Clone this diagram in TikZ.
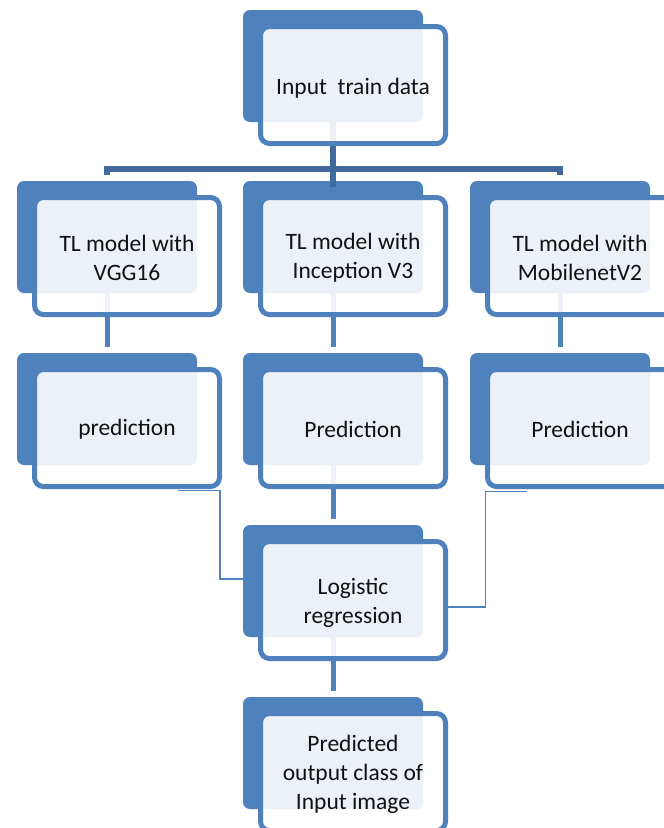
\documentclass[tikz,border=0pt]{standalone}
\usepackage{fontspec}
\setmainfont{Carlito}
\usetikzlibrary{calc}

\definecolor{boxblue}{HTML}{4F81BD}
\definecolor{treeblue}{HTML}{41699C}
\definecolor{tint}{HTML}{ECF1F8}
\definecolor{ink}{HTML}{111111}

\pgfdeclarelayer{backl}
\pgfdeclarelayer{connl}
\pgfdeclarelayer{filll}
\pgfdeclarelayer{tintl}
\pgfsetlayers{backl,connl,filll,tintl,main}

\tikzset{
  frontbox/.style={rectangle, rounded corners=9pt, draw=boxblue, line width=5pt,
    minimum width=185pt, minimum height=117pt, inner sep=0pt, outer sep=0pt},
  boxtext/.style={inner sep=0pt, align=center, text=ink,
    font=\fontsize{23.5}{29}\selectfont},
  backbox/.style={rectangle, rounded corners=7pt, fill=boxblue, draw=none,
    minimum width=180pt, minimum height=112pt, inner sep=0pt, outer sep=0pt},
  conn/.style={draw=boxblue, line width=5pt},
  tree/.style={draw=treeblue, line width=5.5pt},
  link/.style={draw=boxblue, line width=1.8pt},
}

% stacked box: blue card behind, framed card in front, tinted overlap
\newcommand\flowbox[5]{%
  \node[frontbox] (#1) at (#2,#3) {};
  \node[boxtext] (#1-text) at ([yshift=-#5]#1.center) {#4};
  \begin{pgfonlayer}{backl}
    \node[backbox] (#1-back) at ([shift={(-20,-19)}]#1.center) {};
  \end{pgfonlayer}
  \begin{pgfonlayer}{filll}
    \fill[white, fill opacity=0.9, rounded corners=9pt] (#1.north west) rectangle (#1.south east);
  \end{pgfonlayer}
  \begin{pgfonlayer}{tintl}
    \fill[tint, rounded corners=7pt] (#1.north west) rectangle (#1-back.south east);
  \end{pgfonlayer}
}

\begin{document}
\begin{tikzpicture}[x=1pt, y=-1pt]
  \useasboundingbox (0,0) rectangle (664,828);
  \begin{pgfonlayer}{backl}
    \fill[white] (0,0) rectangle (664,828);
  \end{pgfonlayer}

  \flowbox{in}{353}{85}{Input\ \ train data}{3pt}
  \flowbox{vgg}{127}{256}{TL model with\\VGG16}{2pt}
  \flowbox{inc}{353}{256}{TL model with\\Inception V3}{2pt}
  \flowbox{mob}{580}{256}{TL model with\\MobilenetV2}{2pt}
  \flowbox{predl}{127}{428}{prediction}{1pt}
  \flowbox{predm}{353}{428}{Prediction}{1pt}
  \flowbox{predr}{580}{428}{Prediction}{1pt}
  \flowbox{logit}{353}{600}{Logistic\\regression}{2.5pt}
  \flowbox{out}{353}{772}{Predicted\\output class of\\Input image}{2pt}

  \begin{pgfonlayer}{connl}
    % distribution bus from the input box
    \draw[tree] (in-back.south) -- ([yshift=-6pt]inc-back.north);
    \draw[tree] ([yshift=6pt]vgg-back.north) -- ([yshift=12pt]vgg-back.north)
      -| ([yshift=6pt]mob-back.north);
    % model to prediction
    \draw[conn] (vgg-back.south) -- ([yshift=6pt]predl-back.north);
    \draw[conn] (inc-back.south) -- ([yshift=6pt]predm-back.north);
    \draw[conn] (mob-back.south) -- ([yshift=6pt]predr-back.north);
    % stacking
    \draw[conn] (predm-back.south) -- ([yshift=6pt]logit-back.north);
    \draw[conn] (logit-back.south) -- ([yshift=6pt]out-back.north);
    % side predictions into the logistic regression
    \draw[link] ([shift={(51,4)}]predl.south) -- ++(42,0) |- ([yshift=21pt]logit.west);
    \draw[link] ([yshift=-7pt]logit.east) -- ++(40,0) |- ([shift={(-53,5)}]predr.south);
  \end{pgfonlayer}
\end{tikzpicture}
\end{document}
